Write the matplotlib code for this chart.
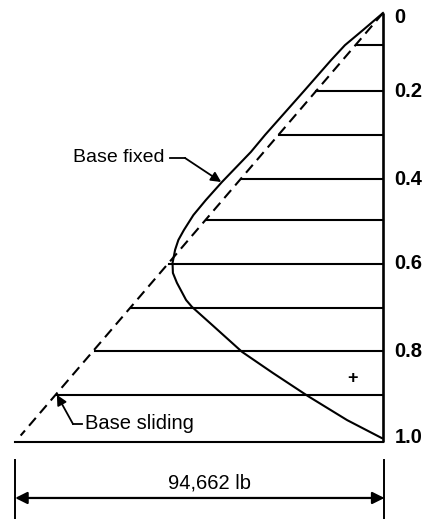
import matplotlib
matplotlib.use('Agg')
import matplotlib.pyplot as plt

plt.rcParams['font.family'] = ['Liberation Sans', 'DejaVu Sans']

# depth as fraction of wall height (0 = top, 1 = base),
# pressure as fraction of the triangular (base sliding) value at the base
level_depths = [0.075, 0.182, 0.284, 0.387, 0.483, 0.585, 0.688, 0.788, 0.890, 1.0]
tick_depths = [0.01, 0.182, 0.387, 0.585, 0.788, 0.99]
tick_labels = ['0', '0.2', '0.4', '0.6', '0.8', '1.0']

sliding_depth = [0.0, 0.985]
sliding_pressure = [0.0, 0.99]

fixed_depth = [0.0, 0.040, 0.075, 0.110, 0.182, 0.284, 0.324, 0.394, 0.436, 0.471,
               0.506, 0.529, 0.552, 0.583, 0.606, 0.629, 0.669, 0.685, 0.727, 0.790,
               0.839, 0.893, 0.949, 0.991]
fixed_pressure = [0.0, 0.055, 0.104, 0.142, 0.216, 0.322, 0.361, 0.440, 0.484, 0.518,
                  0.544, 0.559, 0.568, 0.575, 0.574, 0.563, 0.538, 0.522, 0.467, 0.385,
                  0.301, 0.205, 0.098, 0.003]

total_force = '94,662 lb'

fig = plt.figure(figsize=(4.26, 5.19), dpi=100)
ax = fig.add_axes([0, 0, 1, 1])
ax.set_xlim(1.0464, -0.1175)
ax.set_ylim(1.1795, -0.0303)
ax.axis('off')

lw = 1.5

# wall
ax.plot([0, 0], [0, 1.0], color='black', lw=1.9, solid_capstyle='butt')

# horizontal levels, from the triangle to the wall
for d in level_depths:
    x_left = d if d < 1.0 else 1.005
    ax.plot([x_left, 0], [d, d], color='black', lw=lw)

# base sliding (triangular)
ax.plot(sliding_pressure, sliding_depth, color='black', lw=1.5, linestyle=(0, (5, 3)))

# base fixed
ax.plot(fixed_pressure, fixed_depth, color='black', lw=lw, solid_joinstyle='round')

# tick labels
for d, lab in zip(tick_depths, tick_labels):
    ax.text(-0.031, d, lab, ha='left', va='center', fontsize=14.5, fontweight='bold')

# labels with leaders
ax.text(0.598, 0.336, 'Base fixed', ha='right', va='center', fontsize=14)
ax.plot([0.582, 0.541], [0.338, 0.338], color='black', lw=1.3)
ax.annotate('', xy=(0.442, 0.394), xytext=(0.541, 0.338),
            arrowprops=dict(arrowstyle='-|>', color='black', lw=1.3, mutation_scale=15,
                            shrinkA=0, shrinkB=0))

ax.text(0.814, 0.956, 'Base sliding', ha='left', va='center', fontsize=14.5)
ax.plot([0.822, 0.847], [0.958, 0.958], color='black', lw=1.3)
ax.annotate('', xy=(0.891, 0.890), xytext=(0.847, 0.958),
            arrowprops=dict(arrowstyle='-|>', color='black', lw=1.3, mutation_scale=15,
                            shrinkA=0, shrinkB=0))

ax.text(0.082, 0.851, '+', ha='center', va='center', fontsize=13, fontweight='bold')

# dimension line
ax.plot([1.005, 1.005], [1.042, 1.18], color='black', lw=1.4)
ax.plot([-0.004, -0.004], [1.042, 1.18], color='black', lw=1.4)
ax.annotate('', xy=(1.005, 1.1305), xytext=(-0.004, 1.1305),
            arrowprops=dict(arrowstyle='<|-|>', color='black', lw=1.6, mutation_scale=18,
                            shrinkA=0, shrinkB=0))
ax.text(0.475, 1.096, total_force, ha='center', va='center', fontsize=14.5)

fig.savefig('out.png', dpi=100)
